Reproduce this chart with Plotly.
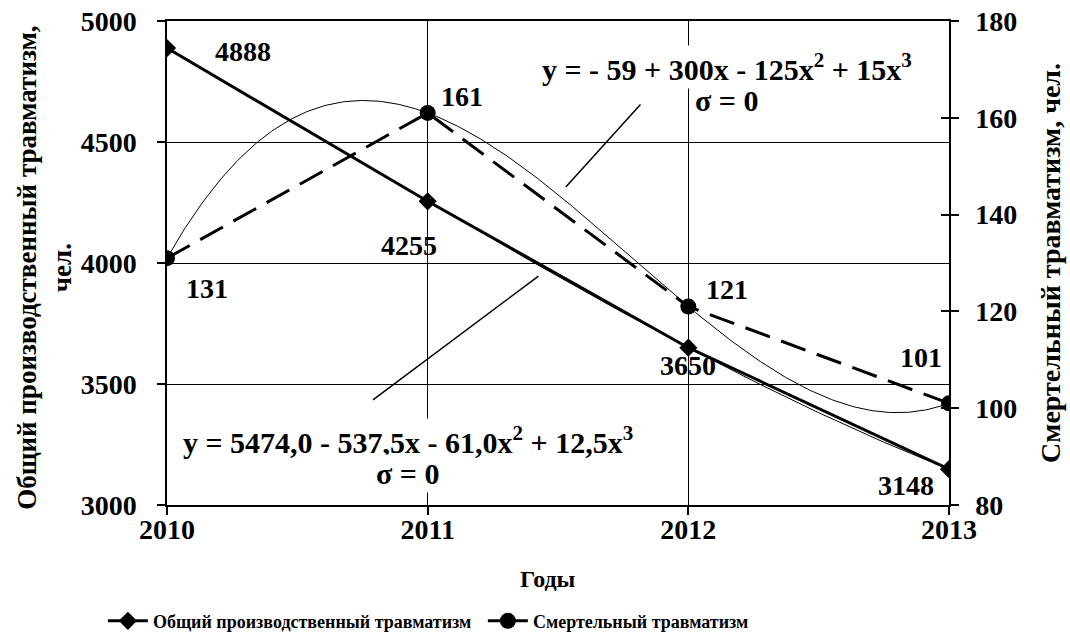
import numpy as np
import plotly.graph_objects as go

years = [2010, 2011, 2012, 2013]
total = [4888, 4255, 3650, 3148]
fatal = [131, 161, 121, 101]

# cubic trend coefficients, as printed on the chart (x = 1..4)
coef_total = [5474.0, -537.5, -61.0, 12.5]
coef_fatal = [-59, 300, -125, 15]

name_total = "Общий производственный травматизм"
name_fatal = "Смертельный травматизм"
eq_total = "y = 5474,0 - 537,5x - 61,0x<sup>2</sup> + 12,5x<sup>3</sup>"
eq_fatal = "y = - 59 + 300x - 125x<sup>2</sup> + 15x<sup>3</sup>"
sigma = "σ = 0"

FONT = "Liberation Serif"

t = np.linspace(1, 4, 300)
trend_x = years[0] - 1 + t
trend_total = sum(c * t**i for i, c in enumerate(coef_total))
trend_fatal = sum(c * t**i for i, c in enumerate(coef_fatal))

fig = go.Figure()
fig.add_trace(go.Scatter(x=trend_x, y=trend_total, mode="lines",
                         line=dict(color="black", width=1), showlegend=False, hoverinfo="skip"))
fig.add_trace(go.Scatter(x=trend_x, y=trend_fatal, mode="lines", yaxis="y2",
                         line=dict(color="black", width=1), showlegend=False, hoverinfo="skip"))
fig.add_trace(go.Scatter(x=years, y=total, mode="lines+markers", name=name_total,
                         line=dict(color="black", width=3),
                         marker=dict(symbol="diamond", size=14, color="black")))
fig.add_trace(go.Scatter(x=years, y=fatal, mode="lines+markers", name=name_fatal, yaxis="y2",
                         line=dict(color="black", width=3, dash="26px,12px"),
                         marker=dict(symbol="circle", size=16, color="black"), showlegend=False))
fig.add_trace(go.Scatter(x=[None], y=[None], mode="lines+markers", name=name_fatal, yaxis="y2",
                         line=dict(color="black", width=3),
                         marker=dict(symbol="circle", size=16, color="black")))
fig.add_trace(go.Scatter(x=[None], y=[None], mode="lines", yaxis="y3", showlegend=False,
                         hoverinfo="skip"))

tick_font = dict(family=FONT, size=28, color="black", weight="bold")

fig.update_layout(
    width=1070, height=643,
    margin=dict(l=167, r=121, t=21, b=138, autoexpand=False),
    paper_bgcolor="white", plot_bgcolor="white",
    font=dict(family=FONT, color="black"),
    showlegend=True,
    legend=dict(orientation="h", x=-0.082, xanchor="left", y=-0.24, yanchor="middle",
                font=dict(family=FONT, size=18, color="black", weight="bold"),
                itemwidth=40, entrywidth=325, tracegroupgap=0, bgcolor="rgba(0,0,0,0)"),
    xaxis=dict(range=[2010, 2013], tickvals=years, ticktext=[str(y) for y in years],
               showgrid=True, gridcolor="black", gridwidth=1, automargin=False,
               showline=True, linecolor="black", linewidth=1.5, mirror=True,
               ticks="outside", ticklen=8, tickcolor="black", tickwidth=1.5,
               tickfont=tick_font, ticklabelstandoff=-9, ticklabeloverflow="allow",
               zeroline=False),
    yaxis=dict(range=[3000, 5000], dtick=500, showgrid=True, gridcolor="black", gridwidth=1,
               showline=True, linecolor="black", linewidth=1.5, automargin=False,
               ticks="outside", ticklen=8, tickcolor="black", tickwidth=1.5,
               tickfont=tick_font, ticklabelstandoff=15, ticklabeloverflow="allow",
               zeroline=False),
    yaxis2=dict(range=[80, 180], dtick=20, overlaying="y", side="right", showgrid=False,
                showline=True, linecolor="black", linewidth=1.5, automargin=False,
                ticks="outside", ticklen=8, tickcolor="black", tickwidth=1.5,
                tickfont=tick_font, ticklabelstandoff=11, ticklabeloverflow="allow",
                zeroline=False),
    yaxis3=dict(range=[80, 180], dtick=20, overlaying="y", side="right", showgrid=False,
                showline=False, ticks="inside", ticklen=8, tickcolor="black", tickwidth=1.5,
                showticklabels=False, zeroline=False, automargin=False),
)

lab_font = dict(family=FONT, size=28, color="black", weight="bold")
total_shift = [(76, -3), (-19, -44), (0, -18), (-43, -16)]
fatal_shift = [(40, -30), (34, 16), (39, 17), (-28, 46)]
for xv, yv, (dx, dy) in zip(years, total, total_shift):
    fig.add_annotation(x=xv, y=yv, xref="x", yref="y", text=str(yv), showarrow=False,
                       xshift=dx, yshift=dy, font=lab_font, xanchor="center", yanchor="middle")
for xv, yv, (dx, dy) in zip(years, fatal, fatal_shift):
    fig.add_annotation(x=xv, y=yv, xref="x", yref="y2", text=str(yv), showarrow=False,
                       xshift=dx, yshift=dy, font=lab_font, xanchor="center", yanchor="middle")

# leader lines from equations to curves
fig.add_annotation(x=2011.53, y=145.7, xref="x", yref="y2", text="", showarrow=True,
                   arrowhead=0, arrowwidth=1.5, arrowcolor="black", ax=76, ay=-84, standoff=0)
fig.add_annotation(x=2011.425, y=3946, xref="x", yref="y", text="", showarrow=True,
                   arrowhead=0, arrowwidth=1.5, arrowcolor="black", ax=-167, ay=125, standoff=0)

eq_font = dict(family=FONT, size=30, color="black", weight="bold")
for txt, xx, yy in [(eq_fatal, 0.716, 0.905), (sigma, 0.716, 0.835),
                    (eq_total, 0.308, 0.134), (sigma, 0.308, 0.066)]:
    fig.add_annotation(x=xx, y=yy, xref="paper", yref="paper", text=txt, showarrow=False,
                       font=eq_font, bgcolor="white", borderpad=2,
                       xanchor="center", yanchor="middle")

# axis titles
fig.add_annotation(x=-0.156, y=0.49, xref="paper", yref="paper", textangle=-90,
                   text="Общий производственный травматизм,<br>чел.", showarrow=False,
                   xanchor="center", yanchor="middle",
                   font=dict(family=FONT, size=27, color="black", weight="bold"))
fig.add_annotation(x=1.129, y=0.5, xref="paper", yref="paper", textangle=-90,
                   text="Смертельный травматизм, чел.", showarrow=False,
                   xanchor="center", yanchor="middle",
                   font=dict(family=FONT, size=28, color="black", weight="bold"))
fig.add_annotation(x=0.487, y=-0.152, xref="paper", yref="paper", text="Годы", showarrow=False,
                   xanchor="center", yanchor="middle",
                   font=dict(family=FONT, size=24, color="black", weight="bold"))

# remove the default page margin so the 1070x643 figure fills the window exactly
fig.write_html("out.html", config={"displayModeBar": False},
               post_script="document.body.style.margin='0';document.body.style.overflow='hidden';")
